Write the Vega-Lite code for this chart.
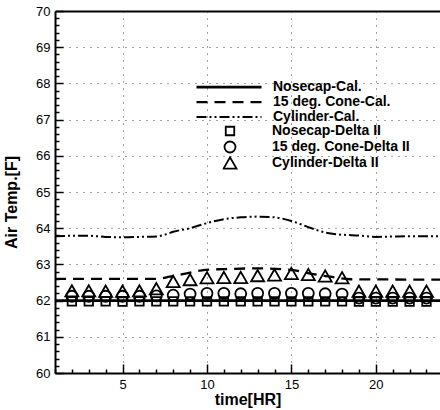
{
  "$schema": "https://vega.github.io/schema/vega-lite/v6.json",
  "width": 385,
  "height": 362,
  "autosize": "none",
  "padding": {"left": 55, "top": 11, "right": 0, "bottom": 37},
  "background": "white",
  "config": {
    "view": {"stroke": null},
    "font": "Liberation Sans",
    "axis": {
      "domainColor": "black", "domainWidth": 2,
      "tickColor": "black", "tickWidth": 1.5,
      "labelColor": "black", "titleColor": "black",
      "labelFont": "Liberation Sans", "titleFont": "Liberation Sans",
      "labelFontSize": 13, "titleFontSize": 16, "titleFontWeight": "bold",
      "labelOverlap": false, "labelFlush": false,
      "gridColor": "#444", "gridDash": [1, 6], "gridWidth": 1
    }
  },
  "datasets": {
    "cal": [
      {"series": "Nosecap-Cal.", "t": 1, "temp": 62.0},
      {"series": "Nosecap-Cal.", "t": 8, "temp": 62.0},
      {"series": "Nosecap-Cal.", "t": 16, "temp": 62.0},
      {"series": "Nosecap-Cal.", "t": 23.8, "temp": 62.0},
      {"series": "15 deg. Cone-Cal.", "t": 1, "temp": 62.6},
      {"series": "15 deg. Cone-Cal.", "t": 7, "temp": 62.6},
      {"series": "15 deg. Cone-Cal.", "t": 7.8, "temp": 62.66},
      {"series": "15 deg. Cone-Cal.", "t": 8.8, "temp": 62.75},
      {"series": "15 deg. Cone-Cal.", "t": 9.9, "temp": 62.85},
      {"series": "15 deg. Cone-Cal.", "t": 11, "temp": 62.87},
      {"series": "15 deg. Cone-Cal.", "t": 13, "temp": 62.89},
      {"series": "15 deg. Cone-Cal.", "t": 15, "temp": 62.85},
      {"series": "15 deg. Cone-Cal.", "t": 16.3, "temp": 62.73},
      {"series": "15 deg. Cone-Cal.", "t": 17.3, "temp": 62.66},
      {"series": "15 deg. Cone-Cal.", "t": 18.5, "temp": 62.59},
      {"series": "15 deg. Cone-Cal.", "t": 23.8, "temp": 62.58},
      {"series": "Cylinder-Cal.", "t": 1, "temp": 63.78},
      {"series": "Cylinder-Cal.", "t": 2, "temp": 63.79},
      {"series": "Cylinder-Cal.", "t": 3, "temp": 63.79},
      {"series": "Cylinder-Cal.", "t": 4, "temp": 63.76},
      {"series": "Cylinder-Cal.", "t": 5, "temp": 63.75},
      {"series": "Cylinder-Cal.", "t": 6, "temp": 63.76},
      {"series": "Cylinder-Cal.", "t": 7, "temp": 63.77},
      {"series": "Cylinder-Cal.", "t": 7.5, "temp": 63.82},
      {"series": "Cylinder-Cal.", "t": 8, "temp": 63.9},
      {"series": "Cylinder-Cal.", "t": 9, "temp": 64.0},
      {"series": "Cylinder-Cal.", "t": 10, "temp": 64.14},
      {"series": "Cylinder-Cal.", "t": 11, "temp": 64.25},
      {"series": "Cylinder-Cal.", "t": 12, "temp": 64.3},
      {"series": "Cylinder-Cal.", "t": 13, "temp": 64.32},
      {"series": "Cylinder-Cal.", "t": 14, "temp": 64.3},
      {"series": "Cylinder-Cal.", "t": 15, "temp": 64.2},
      {"series": "Cylinder-Cal.", "t": 16, "temp": 64.03},
      {"series": "Cylinder-Cal.", "t": 17, "temp": 63.88},
      {"series": "Cylinder-Cal.", "t": 18, "temp": 63.82},
      {"series": "Cylinder-Cal.", "t": 19, "temp": 63.8},
      {"series": "Cylinder-Cal.", "t": 20, "temp": 63.76},
      {"series": "Cylinder-Cal.", "t": 21, "temp": 63.77},
      {"series": "Cylinder-Cal.", "t": 22, "temp": 63.78},
      {"series": "Cylinder-Cal.", "t": 23, "temp": 63.78},
      {"series": "Cylinder-Cal.", "t": 23.8, "temp": 63.78}
    ],
    "delta": [
      {"series": "Nosecap-Delta II", "t": 2, "temp": 61.98},
      {"series": "Nosecap-Delta II", "t": 3, "temp": 61.98},
      {"series": "Nosecap-Delta II", "t": 4, "temp": 61.98},
      {"series": "Nosecap-Delta II", "t": 5, "temp": 61.97},
      {"series": "Nosecap-Delta II", "t": 6, "temp": 61.98},
      {"series": "Nosecap-Delta II", "t": 7, "temp": 61.98},
      {"series": "Nosecap-Delta II", "t": 8, "temp": 61.98},
      {"series": "Nosecap-Delta II", "t": 9, "temp": 61.98},
      {"series": "Nosecap-Delta II", "t": 10, "temp": 61.98},
      {"series": "Nosecap-Delta II", "t": 11, "temp": 61.98},
      {"series": "Nosecap-Delta II", "t": 12, "temp": 61.98},
      {"series": "Nosecap-Delta II", "t": 13, "temp": 61.98},
      {"series": "Nosecap-Delta II", "t": 14, "temp": 61.98},
      {"series": "Nosecap-Delta II", "t": 15, "temp": 61.98},
      {"series": "Nosecap-Delta II", "t": 16, "temp": 61.98},
      {"series": "Nosecap-Delta II", "t": 17, "temp": 61.98},
      {"series": "Nosecap-Delta II", "t": 18, "temp": 61.98},
      {"series": "Nosecap-Delta II", "t": 19, "temp": 61.97},
      {"series": "Nosecap-Delta II", "t": 20, "temp": 61.97},
      {"series": "Nosecap-Delta II", "t": 21, "temp": 61.97},
      {"series": "Nosecap-Delta II", "t": 22, "temp": 61.97},
      {"series": "Nosecap-Delta II", "t": 23, "temp": 61.97},
      {"series": "15 deg. Cone-Delta II", "t": 2, "temp": 62.12},
      {"series": "15 deg. Cone-Delta II", "t": 3, "temp": 62.12},
      {"series": "15 deg. Cone-Delta II", "t": 4, "temp": 62.12},
      {"series": "15 deg. Cone-Delta II", "t": 5, "temp": 62.12},
      {"series": "15 deg. Cone-Delta II", "t": 6, "temp": 62.12},
      {"series": "15 deg. Cone-Delta II", "t": 7, "temp": 62.13},
      {"series": "15 deg. Cone-Delta II", "t": 8, "temp": 62.15},
      {"series": "15 deg. Cone-Delta II", "t": 9, "temp": 62.18},
      {"series": "15 deg. Cone-Delta II", "t": 10, "temp": 62.2},
      {"series": "15 deg. Cone-Delta II", "t": 11, "temp": 62.2},
      {"series": "15 deg. Cone-Delta II", "t": 12, "temp": 62.19},
      {"series": "15 deg. Cone-Delta II", "t": 13, "temp": 62.2},
      {"series": "15 deg. Cone-Delta II", "t": 14, "temp": 62.2},
      {"series": "15 deg. Cone-Delta II", "t": 15, "temp": 62.2},
      {"series": "15 deg. Cone-Delta II", "t": 16, "temp": 62.2},
      {"series": "15 deg. Cone-Delta II", "t": 17, "temp": 62.19},
      {"series": "15 deg. Cone-Delta II", "t": 18, "temp": 62.18},
      {"series": "15 deg. Cone-Delta II", "t": 19, "temp": 62.07},
      {"series": "15 deg. Cone-Delta II", "t": 20, "temp": 62.07},
      {"series": "15 deg. Cone-Delta II", "t": 21, "temp": 62.07},
      {"series": "15 deg. Cone-Delta II", "t": 22, "temp": 62.07},
      {"series": "15 deg. Cone-Delta II", "t": 23, "temp": 62.07},
      {"series": "Cylinder-Delta II", "t": 2, "temp": 62.27},
      {"series": "Cylinder-Delta II", "t": 3, "temp": 62.27},
      {"series": "Cylinder-Delta II", "t": 4, "temp": 62.26},
      {"series": "Cylinder-Delta II", "t": 5, "temp": 62.26},
      {"series": "Cylinder-Delta II", "t": 6, "temp": 62.27},
      {"series": "Cylinder-Delta II", "t": 7, "temp": 62.33},
      {"series": "Cylinder-Delta II", "t": 8, "temp": 62.53},
      {"series": "Cylinder-Delta II", "t": 9, "temp": 62.58},
      {"series": "Cylinder-Delta II", "t": 10, "temp": 62.63},
      {"series": "Cylinder-Delta II", "t": 11, "temp": 62.64},
      {"series": "Cylinder-Delta II", "t": 12, "temp": 62.64},
      {"series": "Cylinder-Delta II", "t": 13, "temp": 62.69},
      {"series": "Cylinder-Delta II", "t": 14, "temp": 62.71},
      {"series": "Cylinder-Delta II", "t": 15, "temp": 62.75},
      {"series": "Cylinder-Delta II", "t": 16, "temp": 62.72},
      {"series": "Cylinder-Delta II", "t": 17, "temp": 62.68},
      {"series": "Cylinder-Delta II", "t": 18, "temp": 62.63},
      {"series": "Cylinder-Delta II", "t": 19, "temp": 62.26},
      {"series": "Cylinder-Delta II", "t": 20, "temp": 62.26},
      {"series": "Cylinder-Delta II", "t": 21, "temp": 62.26},
      {"series": "Cylinder-Delta II", "t": 22, "temp": 62.26},
      {"series": "Cylinder-Delta II", "t": 23, "temp": 62.26}
    ]
  },
  "layer": [
    {
      "data": {"name": "cal"},
      "mark": {"type": "line", "color": "black", "interpolate": "monotone"},
      "encoding": {
        "x": {
          "field": "t", "type": "quantitative",
          "scale": {"domain": [1, 23.8], "nice": false, "zero": false},
          "axis": {
            "orient": "bottom",
            "values": [1,2,3,4,5,6,7,8,9,10,11,12,13,14,15,16,17,18,19,20,21,22,23],
            "tickCount": 200,
            "labelExpr": "datum.value % 5 === 0 ? '' + datum.value : ''",
            "tickSize": {"condition": {"test": "datum.value % 5 === 0", "value": -9}, "value": -4},
            "labelPadding": 14,
            "grid": true,
            "gridOpacity": {"condition": {"test": "datum.value % 5 === 0", "value": 1}, "value": 0},
            "title": "time[HR]",
            "titleBaseline": "alphabetic",
            "titleY": 31.5
          }
        },
        "y": {
          "field": "temp", "type": "quantitative",
          "scale": {"domain": [60, 70], "nice": false, "zero": false},
          "axis": {
            "orient": "left",
            "values": [60,60.2,60.4,60.6,60.8,61,61.2,61.4,61.6,61.8,62,62.2,62.4,62.6,62.8,63,63.2,63.4,63.6,63.8,64,64.2,64.4,64.6,64.8,65,65.2,65.4,65.6,65.8,66,66.2,66.4,66.6,66.8,67,67.2,67.4,67.6,67.8,68,68.2,68.4,68.6,68.8,69,69.2,69.4,69.6,69.8,70],
            "tickCount": 200,
            "labelExpr": "datum.value % 1 === 0 ? '' + datum.value : ''",
            "tickSize": {"condition": {"test": "datum.value % 1 === 0", "value": -8}, "value": -4},
            "labelPadding": 13,
            "grid": true,
            "gridOpacity": {"condition": {"test": "datum.value % 1 === 0 && datum.value > 60 && datum.value < 70", "value": 1}, "value": 0},
            "title": "Air Temp.[F]",
            "titleAngle": 270,
            "titleAlign": "center",
            "titleBaseline": "middle",
            "titleX": -43.5,
            "titleY": 191
          }
        },
        "strokeDash": {
          "field": "series", "type": "nominal",
          "scale": {"domain": ["Nosecap-Cal.", "15 deg. Cone-Cal.", "Cylinder-Cal."], "range": [[1, 0], [11, 7], [10, 3, 2, 3, 2, 3]]},
          "legend": {"orient": "none", "legendX": 140, "legendY": 69, "title": null, "symbolType": "stroke", "symbolSize": 4225, "clipHeight": 14.2, "rowPadding": 0, "padding": 0, "labelOffset": 10, "labelFontSize": 14, "labelFontWeight": "bold", "labelColor": "black", "labelFont": "Liberation Sans", "symbolStrokeColor": "black", "labelLimit": 300}
        },
        "strokeWidth": {
          "field": "series", "type": "nominal",
          "scale": {"domain": ["Nosecap-Cal.", "15 deg. Cone-Cal.", "Cylinder-Cal."], "range": [2.6, 2, 2]},
          "legend": {"orient": "none", "legendX": 140, "legendY": 69, "title": null, "symbolType": "stroke", "symbolSize": 4225, "clipHeight": 14.2, "rowPadding": 0, "padding": 0, "labelOffset": 10, "labelFontSize": 14, "labelFontWeight": "bold", "labelColor": "black", "labelFont": "Liberation Sans", "symbolStrokeColor": "black", "labelLimit": 300}
        }
      }
    },
    {
      "data": {"name": "delta"},
      "mark": {"type": "point", "filled": false, "color": "black", "strokeWidth": 1.8, "opacity": 1},
      "encoding": {
        "x": {
          "field": "t", "type": "quantitative",
          "axis": {"orient": "top", "labels": false, "ticks": false, "grid": false, "title": null, "domain": true}
        },
        "y": {"field": "temp", "type": "quantitative"},
        "shape": {
          "field": "series", "type": "nominal",
          "scale": {"domain": ["Nosecap-Delta II", "15 deg. Cone-Delta II", "Cylinder-Delta II"], "range": ["square", "circle", "triangle-up"]},
          "legend": {"orient": "none", "legendX": 167.5, "legendY": 112, "title": null, "clipHeight": 16, "rowPadding": 0, "padding": 0, "labelOffset": 34.5, "labelFontSize": 14, "labelFontWeight": "bold", "labelColor": "black", "labelFont": "Liberation Sans", "symbolStrokeColor": "black", "symbolStrokeWidth": 1.8, "labelLimit": 300}
        },
        "size": {
          "field": "series", "type": "nominal",
          "scale": {"domain": ["Nosecap-Delta II", "15 deg. Cone-Delta II", "Cylinder-Delta II"], "range": [72, 169, 130]},
          "legend": {"orient": "none", "legendX": 167.5, "legendY": 112, "title": null, "clipHeight": 16, "rowPadding": 0, "padding": 0, "labelOffset": 34.5, "labelFontSize": 14, "labelFontWeight": "bold", "labelColor": "black", "labelFont": "Liberation Sans", "symbolStrokeColor": "black", "symbolStrokeWidth": 1.8, "labelLimit": 300}
        }
      }
    }
  ],
  "resolve": {"axis": {"x": "independent"}}
}
